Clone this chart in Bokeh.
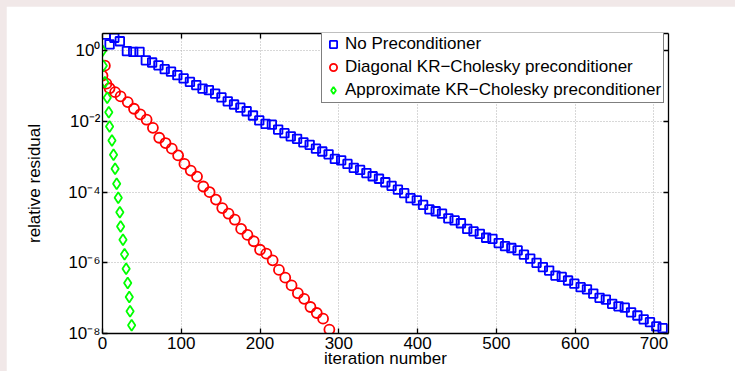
from bokeh.plotting import figure
from bokeh.layouts import column
from bokeh.models import Range1d, FixedTicker, LinearAxis, LogAxis, CustomJSTickFormatter
from bokeh.embed import file_html
from bokeh.resources import INLINE

FONT = "Liberation Sans"

# ---------------- data (iteration number, log10 of relative residual) ----------------
no_pc_iter = [4, 9, 15, 22,
              31, 39, 47, 55, 63, 71, 79, 87, 95, 103,
              111, 119, 127, 135, 143, 151, 159, 167, 175, 183,
              191, 199, 207, 215, 223, 231, 239, 247, 255, 263,
              271, 279, 287, 295, 303, 311, 319, 327, 335, 343,
              351, 359, 367, 375, 383, 391, 399, 407, 415, 423,
              431, 439, 447, 455, 463, 471, 479, 487, 495, 503,
              511, 519, 527, 535, 543, 551, 559, 567, 575, 583,
              591, 599, 607, 615, 623, 631, 639, 647, 655, 663,
              671, 679, 687, 695, 703, 711]
no_pc_log10 = [0.46, 0.18, 0.37, 0.27,
               -0.01, -0.03, -0.03, -0.27, -0.33, -0.41, -0.52, -0.59, -0.69, -0.78,
               -0.88, -0.97, -1.07, -1.11, -1.21, -1.32, -1.43, -1.52, -1.61, -1.71,
               -1.83, -1.97, -2.07, -2.09, -2.23, -2.33, -2.42, -2.49, -2.59, -2.66,
               -2.77, -2.85, -2.93, -3.06, -3.10, -3.20, -3.31, -3.37, -3.46, -3.55,
               -3.62, -3.72, -3.82, -3.93, -4.03, -4.17, -4.23, -4.36, -4.49, -4.54,
               -4.61, -4.74, -4.80, -4.88, -5.04, -5.11, -5.18, -5.29, -5.32, -5.44,
               -5.53, -5.58, -5.65, -5.77, -5.88, -6.00, -6.12, -6.22, -6.36, -6.40,
               -6.50, -6.59, -6.69, -6.75, -6.87, -6.99, -7.04, -7.16, -7.23, -7.27,
               -7.40, -7.49, -7.60, -7.68, -7.80, -7.85]

diag_iter = [0, 3, 5, 9, 16, 23,
             32, 40, 48, 56, 64, 72, 80, 88, 96, 104,
             112, 120, 128, 136, 144, 152, 160, 168, 176, 184,
             192, 200, 208, 216, 224, 232, 240, 248, 256, 264,
             272, 280, 288]
diag_log10 = [-0.70, -0.42, -0.93, -1.06, -1.17, -1.29,
              -1.45, -1.64, -1.80, -1.95, -2.18, -2.46, -2.61, -2.77, -2.96, -3.20,
              -3.39, -3.56, -3.84, -4.00, -4.21, -4.45, -4.61, -4.78, -5.04, -5.21,
              -5.39, -5.63, -5.74, -5.93, -6.20, -6.42, -6.64, -6.86, -7.02, -7.25,
              -7.42, -7.58, -7.89]

approx_iter = [0, 1, 3, 6, 8, 9, 12, 14, 16, 18,
               20, 22, 23, 26, 28, 30, 32, 34, 35, 37]
approx_log10 = [0.00, -0.42, -0.89, -1.33, -1.74, -2.14, -2.54, -2.94, -3.34, -3.76,
                -4.16, -4.57, -4.97, -5.35, -5.76, -6.17, -6.57, -6.97, -7.37, -7.77]

series_names = ["No Preconditioner",
                "Diagonal KR\u2212Cholesky preconditioner",
                "Approximate KR\u2212Cholesky preconditioner"]

x_ticks = [0, 100, 200, 300, 400, 500, 600, 700]
y_tick_exps = [0, -2, -4, -6, -8]
x_max = 718.5
y_log_bottom = -8
y_log_top = 0.49

# ---------------- figure ----------------
p = figure(frame_width=566, frame_height=300,
           min_border_left=96, min_border_right=67, min_border_top=27, min_border_bottom=38,
           x_range=Range1d(0, x_max), y_range=Range1d(10.0 ** y_log_bottom, 10.0 ** y_log_top),
           y_axis_type="log", output_backend="svg", toolbar_location=None,
           background_fill_color="white", border_fill_color="white")
p.outline_line_color = None

y_ticks = [10.0 ** e for e in y_tick_exps]


def style_axis(ax):
    ax.axis_line_color = "black"
    ax.axis_line_width = 1.3
    ax.major_tick_in = 5
    ax.major_tick_out = 0
    ax.major_tick_line_color = "black"
    ax.major_tick_line_width = 1.3
    ax.minor_tick_in = 0
    ax.minor_tick_out = 0
    ax.minor_tick_line_color = None
    ax.major_label_text_font = FONT
    ax.major_label_text_font_size = "17px"
    ax.major_label_text_color = "black"
    ax.axis_label_text_font = FONT
    ax.axis_label_text_font_size = "17px"
    ax.axis_label_text_font_style = "normal"
    ax.axis_label_text_color = "black"


xa = p.below[0]
ya = p.left[0]
style_axis(xa)
style_axis(ya)
xa.ticker = FixedTicker(ticks=x_ticks)
ya.ticker = FixedTicker(ticks=y_ticks)
xa.major_label_standoff = 3
ya.major_label_standoff = 2
ya.formatter = CustomJSTickFormatter(code=r"""
const s = {'0':'\u2070','1':'\u00b9','2':'\u00b2','3':'\u00b3','4':'\u2074','5':'\u2075',
           '6':'\u2076','7':'\u2077','8':'\u2078','9':'\u2079','-':'\u207b'};
const e = Math.round(Math.log10(tick));
return '10' + String(e).split('').map(c => s[c]).join('');
""")
xa.axis_label = "iteration number"
ya.axis_label = "relative residual"
xa.axis_label_standoff = -3
ya.axis_label_standoff = 21

top_ax = LinearAxis(ticker=FixedTicker(ticks=x_ticks), formatter=CustomJSTickFormatter(code="return ''"))
right_ax = LogAxis(ticker=FixedTicker(ticks=y_ticks), formatter=CustomJSTickFormatter(code="return ''"))
style_axis(top_ax)
style_axis(right_ax)
top_ax.major_label_standoff = 0
right_ax.major_label_standoff = 0
p.add_layout(top_ax, "above")
p.add_layout(right_ax, "right")

p.xgrid.ticker = FixedTicker(ticks=x_ticks)
p.ygrid.ticker = FixedTicker(ticks=y_ticks)
for g in (p.xgrid, p.ygrid):
    g.grid_line_color = "#b0b0b0"
    g.grid_line_dash = "1 2"
    g.grid_line_width = 1
    g.minor_grid_line_color = None

p.scatter(no_pc_iter, [10.0 ** v for v in no_pc_log10], marker="square", size=8.5,
          line_color="#0000ff", fill_color=None, line_width=1.8, legend_label=series_names[0])
p.scatter(diag_iter, [10.0 ** v for v in diag_log10], marker="circle", size=10,
          line_color="#ff0000", fill_color=None, line_width=1.8, legend_label=series_names[1])
p.scatter(approx_iter, [10.0 ** v for v in approx_log10], marker="diamond", size=11,
          line_color="#00ff00", fill_color=None, line_width=1.8, legend_label=series_names[2])

leg = p.legend[0]
leg.location = (219, 230)
leg.margin = 0
leg.padding = 2
leg.spacing = 3
leg.glyph_width = 18
leg.glyph_height = 18
leg.label_height = 18
leg.label_standoff = 3
leg.label_text_font = FONT
leg.label_text_font_size = "17px"
leg.label_text_color = "black"
leg.border_line_color = "black"
leg.border_line_width = 1
leg.background_fill_color = "white"
leg.background_fill_alpha = 1.0

page = column(p, styles={"background-color": "#f1e8e8", "padding-left": "6px", "padding-top": "6px"})

open("out.html", "w").write(file_html(page, INLINE))
